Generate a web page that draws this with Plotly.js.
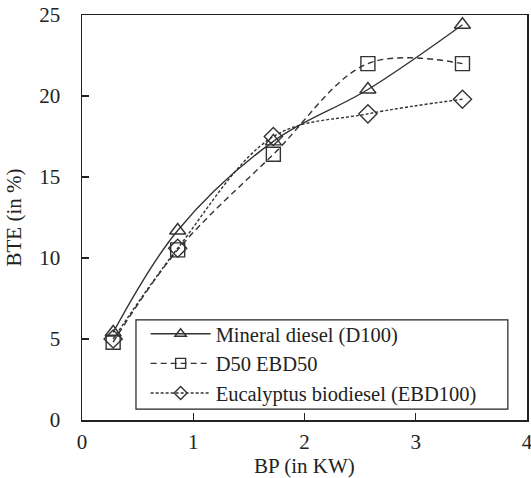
<!DOCTYPE html>
<html>
<head>
<meta charset="utf-8">
<script src="https://cdn.plot.ly/plotly-3.0.1.min.js"></script>
<style>html,body{margin:0;padding:0;background:#fff;}#chart{width:531px;height:478px;}</style>
</head>
<body>
<div id="chart"></div>
<script>
var bp = [0.28, 0.86, 1.72, 2.57, 3.42];
var d100 = [5.4, 11.7, 17.2, 20.4, 24.4];
var d50ebd50 = [4.8, 10.5, 16.4, 22.0, 22.0];
var ebd100 = [5.0, 10.6, 17.5, 18.9, 19.8];
var names = ["Mineral diesel (D100)", "D50 EBD50", "Eucalyptus biodiesel (EBD100)"];
var xTicks = [0, 1, 2, 3, 4];
var yTicks = [0, 5, 10, 15, 20, 25];

var serif = "Liberation Serif";
var fs = 21;
var col = "#333333";

function tr(y, name, sym, dash, size, legendOnly) {
  return {
    x: legendOnly ? [null] : bp, y: legendOnly ? [null] : y, name: name, type: "scatter", mode: "lines+markers",
    showlegend: !!legendOnly,
    line: {shape: "spline", smoothing: 1, color: col, width: 1.4, dash: dash},
    marker: {symbol: sym, size: size, color: col, line: {color: col, width: 1.4}}
  };
}
var syms = ["triangle-up-open", "square-open", "diamond-open"];
var dashes = ["solid", "6px,4px", "3px,2px"];
var series = [d100, d50ebd50, ebd100];
var data = [];
for (var i = 0; i < 3; i++) data.push(tr(series[i], names[i], syms[i], dashes[i], 14, false));
for (var j = 0; j < 3; j++) data.push(tr(series[j], names[j], syms[j], dashes[j], 10, true));

var axisCommon = {
  showgrid: false, zeroline: false, showline: true, mirror: true,
  linecolor: "#222", linewidth: 1.5, ticks: "inside", ticklen: 7, tickwidth: 1.2, tickcolor: "#222",
  tickfont: {family: serif, size: fs, color: "#222"}, ticklabeloverflow: "allow"
};
var layout = {
  width: 531, height: 478,
  margin: {l: 82, r: 4, t: 15, b: 58},
  paper_bgcolor: "#fff", plot_bgcolor: "#fff",
  font: {family: serif, color: "#222"},
  xaxis: Object.assign({}, axisCommon, {range: [0, 4], tickvals: xTicks, ticktext: xTicks.map(String),
    ticklabelstandoff: 2}),
  yaxis: Object.assign({}, axisCommon, {range: [0, 25], tickvals: yTicks, ticktext: yTicks.map(String),
    ticklabelstandoff: 16,
    title: {text: "BTE (in %)", font: {family: serif, size: fs, color: "#222"}, standoff: 12}}),
  annotations: [{
    text: "BP (in KW)", xref: "paper", yref: "paper", x: 0.5, y: -0.113,
    xanchor: "center", yanchor: "middle", showarrow: false,
    font: {family: serif, size: fs, color: "#222"}
  }],
  shapes: [{
    type: "rect", xref: "paper", yref: "paper", x0: 0.1213, x1: 0.957, y0: 0.027, y1: 0.247,
    line: {color: "#222", width: 1.2}, fillcolor: "rgba(255,255,255,0)", layer: "above"
  }],
  showlegend: true,
  legend: {
    x: 0.143, y: 0.262, xanchor: "left", yanchor: "top",
    bgcolor: "rgba(255,255,255,0)", borderwidth: 0,
    font: {family: serif, size: 20.5, color: "#222"},
    itemwidth: 60
  }
};
Plotly.newPlot("chart", data, layout, {displayModeBar: false, staticPlot: true});
</script>
</body>
</html>
